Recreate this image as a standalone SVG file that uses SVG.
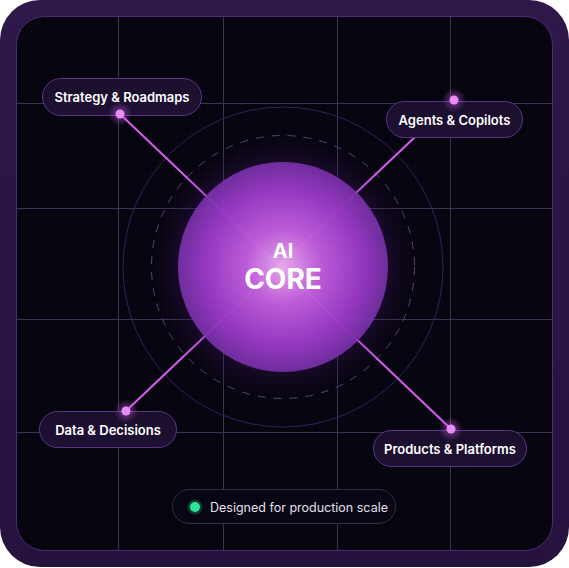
<svg xmlns="http://www.w3.org/2000/svg" width="569" height="568" viewBox="0 0 569 568">
<defs>
<style>
.grid{stroke:#3b3350;stroke-width:1;fill:none}
.conn{stroke:#d75cf0;stroke-width:2;fill:none}
.pill{fill:url(#pillFill);stroke:#5a3585;stroke-width:1}
.lbl{font-family:Inter,"Noto Sans","Liberation Sans",sans-serif;font-weight:600;font-size:13px;fill:#ffffff;text-anchor:middle}
.dot{fill:#e88cf8}
</style>
<linearGradient id="frame" x1="0" y1="0" x2="0" y2="1">
<stop offset="0" stop-color="#2e1749"/>
<stop offset="1" stop-color="#26123f"/>
</linearGradient>
<linearGradient id="pillFill" x1="0" y1="0" x2="0" y2="1">
<stop offset="0" stop-color="#1a0f2c"/>
<stop offset="1" stop-color="#1f1033"/>
</linearGradient>
<radialGradient id="sphere" cx="0.5" cy="0.5" r="0.5">
<stop offset="0" stop-color="#f2b4f6"/>
<stop offset="0.35" stop-color="#c862e2"/>
<stop offset="0.75" stop-color="#9a3ac8"/>
<stop offset="1" stop-color="#7630a6"/>
</radialGradient>
<radialGradient id="halo" cx="0.5" cy="0.5" r="0.5">
<stop offset="0.6" stop-color="#7a2aa8" stop-opacity="0.5"/>
<stop offset="0.8" stop-color="#4a1670" stop-opacity="0.22"/>
<stop offset="1" stop-color="#2a0c40" stop-opacity="0"/>
</radialGradient>
<radialGradient id="dotGlow" cx="0.5" cy="0.5" r="0.5">
<stop offset="0" stop-color="#d060f0" stop-opacity="0.55"/>
<stop offset="1" stop-color="#d060f0" stop-opacity="0"/>
</radialGradient>
<pattern id="fine" width="8" height="8" patternUnits="userSpaceOnUse">
<path d="M8 0V8M0 8H8" stroke="#ffffff" stroke-opacity="0.012" stroke-width="1" fill="none"/>
</pattern>
</defs>

<g id="frame">
<rect x="0" y="0" width="569" height="567" rx="40" fill="url(#frame)"/>
<rect x="16.5" y="16.5" width="536" height="534" rx="28" fill="#06040f" stroke="#4d2c74" stroke-width="1"/>
<rect x="17" y="17" width="535" height="533" rx="28" fill="url(#fine)"/>
</g>

<g id="grid">
<line class="grid" x1="118.5" y1="17" x2="118.5" y2="550"/>
<line class="grid" x1="223.5" y1="17" x2="223.5" y2="550"/>
<line class="grid" x1="337.5" y1="17" x2="337.5" y2="550"/>
<line class="grid" x1="450.5" y1="17" x2="450.5" y2="550"/>
<line class="grid" x1="17" y1="103.5" x2="552" y2="103.5"/>
<line class="grid" x1="17" y1="208.5" x2="552" y2="208.5"/>
<line class="grid" x1="17" y1="319.5" x2="552" y2="319.5"/>
<line class="grid" x1="17" y1="432.5" x2="552" y2="432.5"/>
</g>

<g id="rings">
<circle cx="283" cy="267" r="160" fill="none" stroke="#35205e" stroke-width="1"/>
<circle cx="283" cy="267" r="131.5" fill="none" stroke="#574673" stroke-width="1" stroke-dasharray="8 8"/>
</g>

<g id="connectors">
<line class="conn" x1="120" y1="114" x2="451" y2="429"/>
<line class="conn" x1="454" y1="100" x2="126" y2="411"/>
</g>

<g id="core">
<circle cx="283" cy="267" r="135" fill="url(#halo)"/>
<circle cx="283" cy="267" r="105" fill="url(#sphere)" fill-opacity="0.92"/>
<text x="283" y="258" font-family="Inter,'Noto Sans','Liberation Sans',sans-serif" font-weight="700" font-size="20" fill="#ffffff" text-anchor="middle">AI</text>
<text x="283" y="289" font-family="Inter,'Noto Sans','Liberation Sans',sans-serif" font-weight="700" font-size="28" fill="#ffffff" text-anchor="middle">CORE</text>
</g>

<g id="node-strategy">
<rect class="pill" x="42.5" y="78.5" width="159" height="37" rx="18.5"/>
<text class="lbl" x="122" y="102">Strategy &amp; Roadmaps</text>
<circle cx="120" cy="114" r="12" fill="url(#dotGlow)"/>
<circle class="dot" cx="120" cy="114" r="4.5"/>
</g>

<g id="node-agents">
<rect class="pill" x="386.5" y="101.5" width="136" height="36" rx="18"/>
<text class="lbl" x="454.5" y="124.5">Agents &amp; Copilots</text>
<circle cx="454" cy="100" r="12" fill="url(#dotGlow)"/>
<circle class="dot" cx="454" cy="100" r="4.5"/>
</g>

<g id="node-data">
<rect class="pill" x="39.5" y="411.5" width="137" height="36" rx="18"/>
<text class="lbl" x="108" y="434.5">Data &amp; Decisions</text>
<circle cx="126" cy="411" r="12" fill="url(#dotGlow)"/>
<circle class="dot" cx="126" cy="411" r="4.5"/>
</g>

<g id="node-products">
<rect class="pill" x="373.5" y="430.5" width="153" height="36" rx="18"/>
<text class="lbl" x="450" y="453.5">Products &amp; Platforms</text>
<circle cx="451" cy="429" r="12" fill="url(#dotGlow)"/>
<circle class="dot" cx="451" cy="429" r="4.5"/>
</g>

<g id="badge">
<rect x="172.5" y="489.5" width="223" height="34" rx="17" fill="#080612" stroke="#34303f" stroke-width="1"/>
<circle cx="195" cy="507" r="7.5" fill="#0e3a30"/>
<circle cx="195" cy="507" r="5" fill="#2ee59d"/>
<text x="210" y="511.5" font-family="Inter,'Noto Sans','Liberation Sans',sans-serif" font-size="12.5" fill="#e4e0ec">Designed for production scale</text>
</g>
</svg>
